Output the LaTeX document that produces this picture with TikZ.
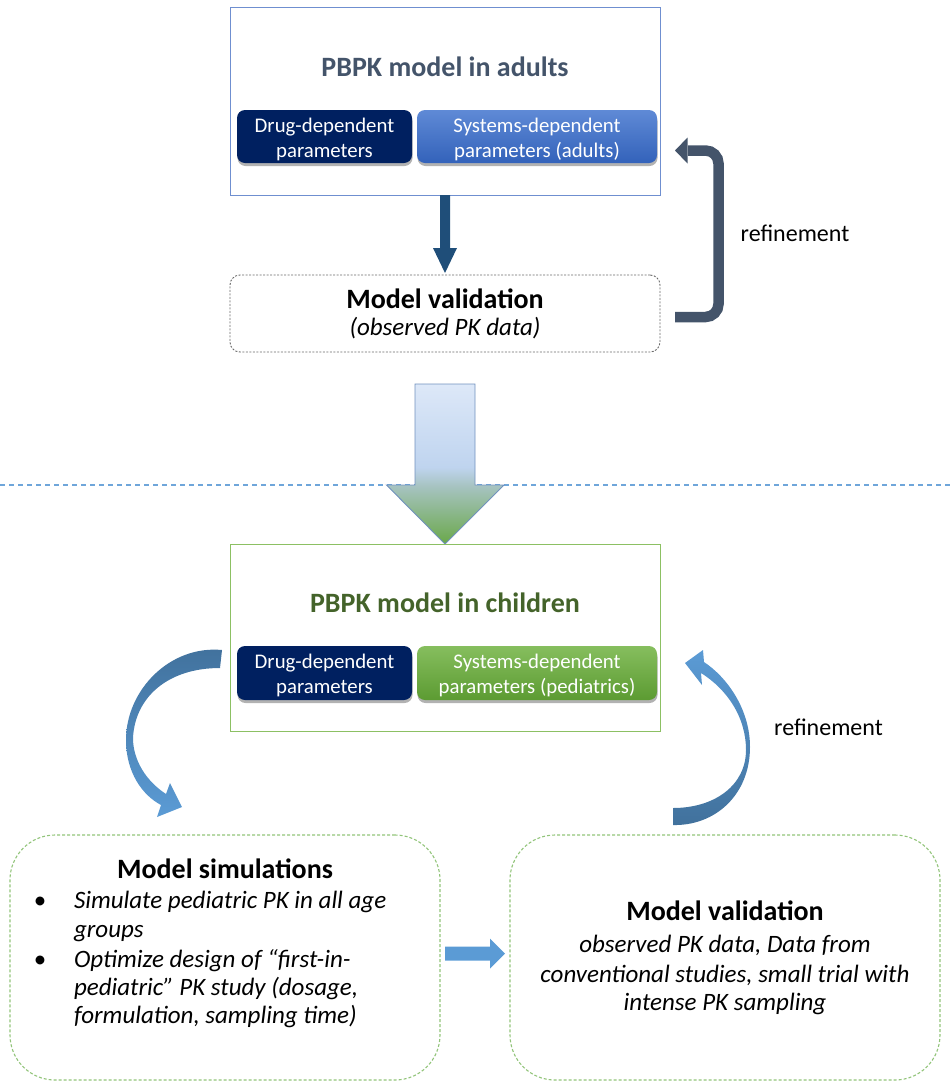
\documentclass[tikz,border=0pt]{standalone}
\usepackage{fontspec}
\setmainfont{Carlito}
\usetikzlibrary{shadows}
\definecolor{titleblue}{HTML}{44546A}
\definecolor{titlegreen}{HTML}{44632A}
\definecolor{adultborder}{HTML}{6F8FD0}
\definecolor{childborder}{HTML}{8CC063}
\definecolor{drugblue}{HTML}{002060}
\definecolor{sysbluetop}{HTML}{5F8AD6}
\definecolor{sysbluebot}{HTML}{3362BA}
\definecolor{sysgreentop}{HTML}{86BE5E}
\definecolor{sysgreenbot}{HTML}{5C9B32}
\definecolor{darkarrow}{HTML}{1F4E79}
\definecolor{bentcol}{HTML}{44546A}
\definecolor{lightblue}{HTML}{5B9BD5}
\definecolor{sepblue}{HTML}{6FA6DA}
\definecolor{darkblue}{HTML}{41719C}
\definecolor{dashgreen}{HTML}{92C47A}
\definecolor{dashgray}{HTML}{6A6A6A}
\definecolor{bigtop}{HTML}{DDE8F8}
\definecolor{bigmidb}{HTML}{BFD4EF}
\definecolor{bigmidg}{HTML}{A6C3C0}
\definecolor{bigbot}{HTML}{6AA84A}
\definecolor{bigborder}{HTML}{7191BE}
\pgfdeclareverticalshading{bigarrowshade}{100bp}{color(0bp)=(bigbot); color(25bp)=(bigbot); color(43bp)=(bigmidg); color(49bp)=(bigmidb); color(75bp)=(bigtop); color(100bp)=(bigtop)}
\begin{document}
\begin{tikzpicture}[x=1pt,y=-1pt,
  bigbox/.style={draw, line width=1pt, minimum width=430pt, inner sep=0pt, outer sep=0pt},
  dashbox/.style={draw=dashgreen, line width=1.1pt, dash pattern=on 3pt off 2pt, rounded corners=45pt, minimum width=430pt, minimum height=245pt, inner sep=0pt, outer sep=0pt},
  parambox/.style={rounded corners=8pt, minimum height=53pt, inner sep=0pt, outer sep=0pt,
     drop shadow={shadow xshift=0.5pt, shadow yshift=-3pt, opacity=0.3, fill=black}},
  drugbox/.style={parambox, fill=drugblue, minimum width=175pt},
  sysbox/.style={parambox, minimum width=240pt},
  txt/.style={inner sep=0pt, outer sep=0pt, anchor=base},
  ftitle/.style={txt, font=\fontsize{28}{34}\selectfont\bfseries},
  fparam/.style={txt, text=white, font=\fontsize{20.8}{25}\selectfont},
  fbody/.style={txt, font=\fontsize{25}{30}\selectfont\itshape},
  fref/.style={txt, font=\fontsize{24}{29}\selectfont},
  fbullet/.style={txt, font=\fontsize{25}{30}\selectfont},
]
\useasboundingbox (0,0) rectangle (952,1082);

% separator line
\draw[sepblue, line width=1.3pt, dash pattern=on 5pt off 4pt] (0,485) -- (952,485);

% ---------- adults ----------
\node[bigbox, draw=adultborder, minimum height=188pt] (adult) at (445,101) {};
\node[ftitle, text=titleblue] (adultT) at (445,76) {PBPK model in adults};
\node[drugbox] (drug1) at (324.5,136.5) {};
\node[sysbox, top color=sysbluetop, bottom color=sysbluebot] (sys1) at (537,136.5) {};
\node[fparam] (d1a) at (324.5,132) {Drug-dependent};
\node[fparam] (d1b) at (324.5,157) {parameters};
\node[fparam] (s1a) at (537,132) {Systems-dependent};
\node[fparam] (s1b) at (537,157) {parameters (adults)};

\node[draw=dashgray, line width=0.9pt, dash pattern=on 2pt off 1.5pt, rounded corners=10pt,
      minimum width=430pt, minimum height=77pt, inner sep=0pt, outer sep=0pt] (val1) at (445,313.5) {};
\node[ftitle] (v1a) at (445,308) {Model validation};
\node[fbody] (v1b) at (445,335) {(observed PK data)};

% down arrow adult -> validation
\fill[darkarrow] ([xshift=-5pt]adult.south) -- ++(10,0) -- ++(0,53) -- ++(7,0)
   -- ([yshift=2pt]val1.north) -- ++(-12,-25) -- ++(7,0) -- cycle;

% refinement bent arrow validation -> adult
\coordinate (rs) at ([xshift=15pt,yshift=-3.5pt]val1.east);
\coordinate (rh) at ([xshift=28pt]adult.east |- 0,150.5);
\draw[bentcol, line width=10.5pt, rounded corners=13pt] (rs) -- (718.5,317) -- (718.5,150.5) -- (rh);
\fill[bentcol] ([xshift=-0.5pt,yshift=13pt]rh) -- ([xshift=-13pt]rh) -- ([xshift=-0.5pt,yshift=-13pt]rh) -- cycle;
\node[fref] (ref1) at (795,241) {refinement};

% big block arrow
\path[draw=bigborder, line width=0.9pt, shading=bigarrowshade]
  ([xshift=-30pt,yshift=-32pt]val1.south) -- ++(60,0) -- ++(0,101) -- ++(29,0)
  -- (445,544) -- ++(-58.5,-59) -- ++(28.5,0) -- cycle;

% ---------- children ----------
\node[bigbox, draw=childborder, minimum height=187pt] (child) at (445,637.5) {};
\node[ftitle, text=titlegreen] (childT) at (445,612) {PBPK model in children};
\node[drugbox, minimum height=54pt] (drug2) at (324.5,673) {};
\node[sysbox, minimum height=54pt, top color=sysgreentop, bottom color=sysgreenbot] (sys2) at (537,673) {};
\node[fparam] (d2a) at (324.5,668) {Drug-dependent};
\node[fparam] (d2b) at (324.5,693) {parameters};
\node[fparam] (s2a) at (537,668) {Systems-dependent};
\node[fparam] (s2b) at (537,693) {parameters (pediatrics)};

% curved arrow child -> simulations
\shade[top color=darkblue, bottom color=lightblue]
  (222,650) .. controls (170,645) and (126,690) .. (126,740)
  .. controls (126,772) and (142,795) .. (161,805) -- (157,817) -- (182,807) -- (170,783) -- (166,794)
  .. controls (146,781) and (133,760) .. (133,738)
  .. controls (135,697) and (168,668) .. (220,668) -- cycle;

% curved arrow validation -> child
\shade[top color=lightblue, bottom color=darkblue]
  (673,825) .. controls (715,826) and (750,795) .. (750,747)
  .. controls (750,710) and (728,678) .. (704,662) -- (703,650) -- (685,663) -- (702,685) -- (701,673)
  .. controls (728,690) and (746,718) .. (746,750)
  .. controls (746,785) and (715,808) .. (673,808) -- cycle;
\node[fref] (ref2) at (828.5,735) {refinement};

% ---------- bottom boxes ----------
\node[dashbox] (sim) at (225,957.5) {};
\node[dashbox] (val2) at (725,957.5) {};

\node[ftitle] (simT) at (225,878) {Model simulations};
\node[fbullet] (b1) at (40,908) {•};
\node[fbullet] (b2) at (40,967) {•};
\node[fbody, anchor=base west] (l1) at (74,908) {Simulate pediatric PK in all age};
\node[fbody, anchor=base west] (l2) at (74,937) {groups};
\node[fbody, anchor=base west] (l3) at (74,967) {Optimize design of “first-in-};
\node[fbody, anchor=base west] (l4) at (74,995) {pediatric” PK study (dosage,};
\node[fbody, anchor=base west] (l5) at (74,1023) {formulation, sampling time)};

\node[ftitle] (valT) at (725,920) {Model validation};
\node[fbody] (m1) at (725,952) {observed PK data, Data from};
\node[fbody] (m2) at (725,982) {conventional studies, small trial with};
\node[fbody] (m3) at (725,1010) {intense PK sampling};

% small arrow simulations -> validation
\fill[lightblue] ([xshift=5pt,yshift=11pt]sim.east) -- ++(45,0) -- ++(0,-8)
  -- ([xshift=-5pt,yshift=4pt]val2.west) -- ++(-15,15) -- ++(0,-8) -- ++(-45,0) -- cycle;
\end{tikzpicture}
\end{document}
